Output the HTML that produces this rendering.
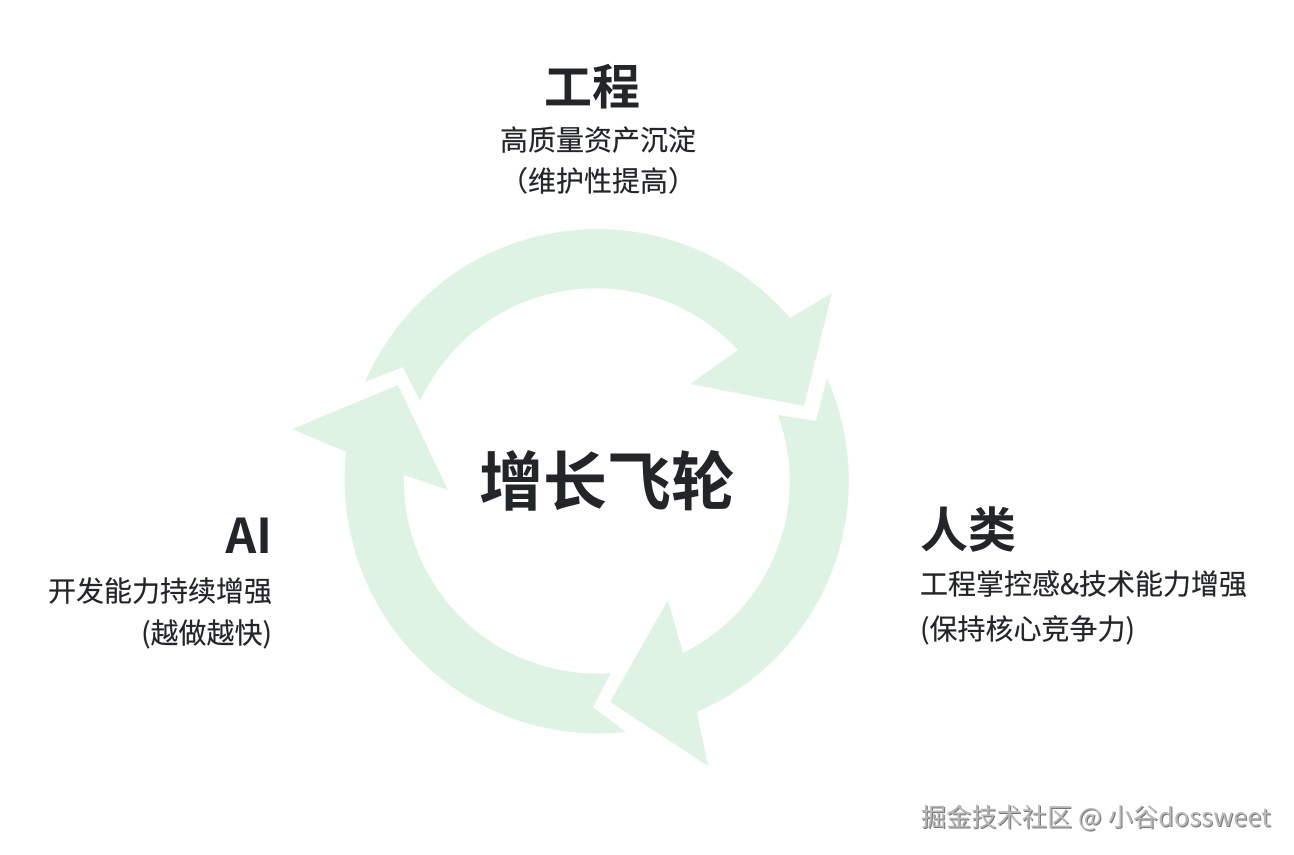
<!DOCTYPE html>
<html><head><meta charset="utf-8">
<style>
html,body{margin:0;padding:0;background:#fff;width:1294px;height:855px;overflow:hidden}
svg{display:block}
text{fill:#222629}
.cjk{font-family:"Noto Sans CJK SC",sans-serif}
.t{font-family:"Noto Sans CJK SC",sans-serif;stroke:#222629;stroke-width:.2px}
.b{font-family:"Noto Sans CJK SC",sans-serif;font-weight:700}
</style></head><body>
<svg width="1294" height="855" viewBox="0 0 1294 855" xmlns="http://www.w3.org/2000/svg">
<rect width="1294" height="855" fill="#fff"/>
<g fill="#dff3e4">
<path d="M365 382 L403 367 L420 401 A194 194 0 0 1 738 350 L690 384 L804 406 L832 293 L790 318 A253 253 0 0 0 365 382 Z"/>
<path d="M827 378 L816 421 L778 415 A192 192 0 0 1 683 653 L668 600 L610 702 L708 766 L697 712 A252 252 0 0 0 827 378 Z"/>
<path d="M611 673 L593 707 L626 732 A254 254 0 0 1 346 452 L292 429 L398 385 L448 490 L404 475 A193 193 0 0 0 611 673 Z"/>
</g>
<text class="b" x="479" y="505" font-size="64">增长飞轮</text>
<text class="b" x="592" y="104" font-size="48" text-anchor="middle">工程</text>
<text class="t" x="598" y="150" font-size="28" text-anchor="middle">高质量资产沉淀</text>
<text class="t" x="598" y="191" font-size="28" text-anchor="middle">（维护性提高）</text>
<text class="b" x="272" y="553" font-size="48" text-anchor="end">AI</text>
<text class="t" x="272" y="601" font-size="28" text-anchor="end">开发能力持续增强</text>
<text class="t" x="272" y="643" font-size="28" text-anchor="end">(越做越快)</text>
<text class="b" x="920" y="547" font-size="48">人类</text>
<text class="t" x="920" y="594" font-size="28">工程掌控感&amp;技术能力增强</text>
<text class="t" x="920" y="639" font-size="28">(保持核心竞争力)</text>
<text class="cjk" x="921" y="826" font-size="25" letter-spacing=".22" style="fill:#b8b8b8;filter:drop-shadow(1px 1px 0 #777)">掘金技术社区 @ 小谷dossweet</text>
</svg>
</body></html>
